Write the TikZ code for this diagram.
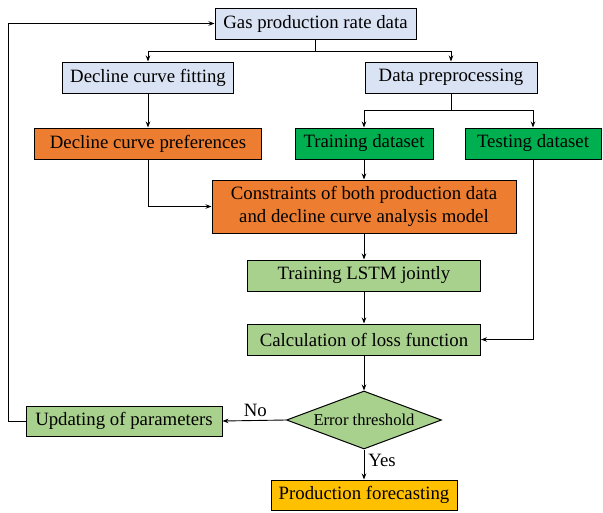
\documentclass[tikz,border=0pt]{standalone}
\usepackage{fontspec}
\setmainfont{Liberation Serif}
\usetikzlibrary{arrows.meta,shapes.geometric}
\definecolor{lblue}{HTML}{DAE3F3}
\definecolor{orng}{HTML}{ED7D31}
\definecolor{dgreen}{HTML}{00B050}
\definecolor{lgreen}{HTML}{A9D18E}
\definecolor{gold}{HTML}{FFC000}
\tikzset{
  box/.style={draw=black, line width=1pt, inner sep=0pt, font=\fontsize{18.8}{22}\selectfont, align=center},
  arr/.style={line width=0.9pt, -{Stealth[length=6pt,width=4.5pt]}},
  ln/.style={line width=0.9pt},
  lbl/.style={font=\fontsize{18.8}{22}\selectfont, inner sep=0pt}
}
\begin{document}
\begin{tikzpicture}[x=1pt,y=-1pt]
\useasboundingbox (0,0) rectangle (603,512);
\node[box, fill=lblue, minimum width=201pt, minimum height=31pt] (gas) at (315.5,23.5) {Gas production rate data};
\node[box, fill=lblue, minimum width=171pt, minimum height=31pt] (dcf) at (148,77.5) {Decline curve fitting};
\node[box, fill=lblue, minimum width=172pt, minimum height=31pt] (dp) at (451,77.5) {Data preprocessing};
\node[box, fill=orng, minimum width=227pt, minimum height=31pt] (dcp) at (148,143.5) {Decline curve preferences};
\node[box, fill=dgreen, minimum width=138pt, minimum height=31pt] (trd) at (364,143.5) {Training dataset};
\node[box, fill=dgreen, minimum width=136pt, minimum height=31pt] (ted) at (533,143.5) {Testing dataset};
\node[box, fill=orng, minimum width=304pt, minimum height=53pt, font=\fontsize{18.8}{22.5}\selectfont] (con) at (364,206.5) {Constraints of both production data\\and decline curve analysis model};
\node[box, fill=lgreen, minimum width=233pt, minimum height=31pt] (lstm) at (364,275.5) {Training LSTM jointly};
\node[box, fill=lgreen, minimum width=233pt, minimum height=31pt] (calc) at (364,339.5) {Calculation of loss function};
\node[diamond, draw=black, line width=1pt, fill=lgreen, inner sep=0pt, minimum width=155pt, minimum height=58pt,
      label={[font=\fontsize{16.6}{20}\selectfont, inner sep=0pt]center:Error threshold}] (err) at (364,420) {};
\node[box, fill=lgreen, minimum width=196pt, minimum height=30pt] (upd) at (124,421) {Updating of parameters};
\node[box, fill=gold, minimum width=186pt, minimum height=30pt] (pf) at (364,495) {Production forecasting};

\coordinate (s1) at (315.5,51);
\coordinate (s2) at (451,110);
\coordinate (fb) at (8,421);

\draw[ln] (gas.south) -- (s1);
\draw[arr] (s1) -| (dcf.north);
\draw[arr] (s1) -| (dp.north);
\draw[arr] (dcf.south) -- (dcp.north);
\draw[ln] (dp.south) -- (s2);
\draw[arr] (s2) -| (trd.north);
\draw[arr] (s2) -| (ted.north);
\draw[arr] (dcp.south) |- (con.west);
\draw[arr] (trd.south) -- (con.north);
\draw[arr] (ted.south) |- (calc.east);
\draw[arr] (con.south) -- (lstm.north);
\draw[arr] (lstm.south) -- (calc.north);
\draw[arr] (calc.south) -- (err.north);
\draw[arr] (err.south) -- node[lbl, right, xshift=4pt, yshift=4pt] (yes) {Yes} (pf.north);
\draw[arr] (err.west) -- node[lbl, above, yshift=3pt, xshift=1pt] (no) {No} (upd.east);
\draw[arr] (upd.west) -- (fb) |- (gas.west);
\end{tikzpicture}
\end{document}
